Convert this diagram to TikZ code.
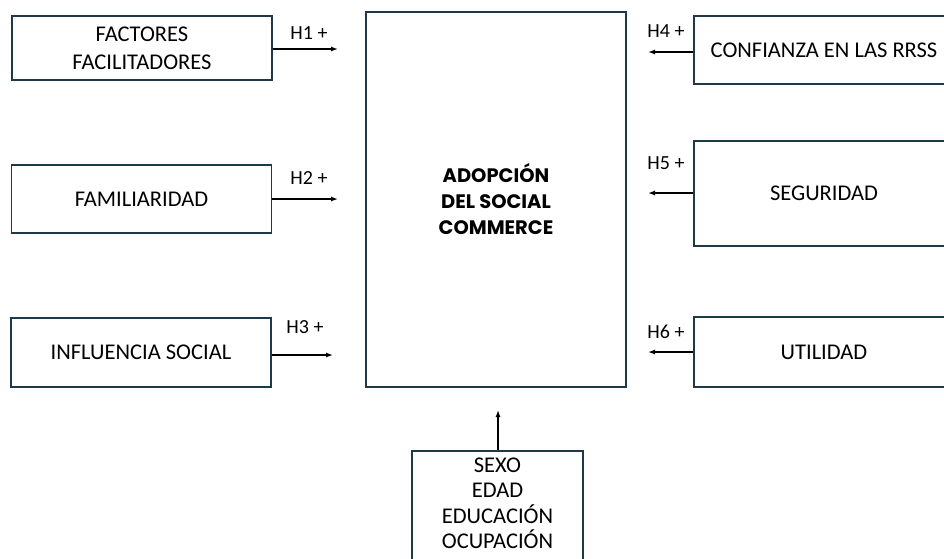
\documentclass[tikz,border=0pt]{standalone}
\usepackage{fontspec}
\setmainfont{Carlito}
\newfontfamily\titlefont{Poppins}
\usepackage{xcolor}
\usetikzlibrary{positioning,arrows.meta}
\definecolor{boxline}{HTML}{1E3A4A}

\begin{document}
\begin{tikzpicture}[x=1pt, y=-1pt,
  factor/.style={draw=boxline, line width=1.6pt, minimum width=260pt, align=center,
                 font=\fontsize{22.5}{28}\selectfont, inner sep=0pt},
  hyp/.style={-{Latex[length=7pt,width=5pt]}, line width=1.3pt},
  hlabel/.style={font=\fontsize{20}{22}\selectfont, inner sep=0pt}
]
  \clip (0,0) rectangle (944,558);

  % Central construct
  \node[draw=boxline, line width=1.6pt, minimum width=260pt, minimum height=375pt,
        align=center, font=\titlefont\bfseries\fontsize{19.5}{26}\selectfont] (adop) at (496,199.5)
    {ADOPCIÓN\\DEL SOCIAL\\COMMERCE};

  % Left factors
  \node[factor, minimum height=64pt] (fac) at (142,48) {FACTORES\\FACILITADORES};
  \node[factor, minimum height=68pt] (fam) at (141.5,199) {FAMILIARIDAD};
  \node[factor, minimum height=69pt] (inf) at (141,352.5) {INFLUENCIA SOCIAL};

  % Right factors (cut by the page edge)
  \node[factor, minimum height=68pt] (conf) at (824,50) {CONFIANZA EN LAS RRSS};
  \node[factor, minimum height=105pt] (seg) at (824,193.5) {SEGURIDAD};
  \node[factor, minimum height=70pt] (uti) at (824,352) {UTILIDAD};

  % Control variables (cut by the page edge)
  \node[factor, minimum width=171pt, inner ysep=7pt, anchor=north] (demo) at (497.5,450)
    {SEXO\\[-2.5pt]EDAD\\[-2.5pt]EDUCACIÓN\\[-2.5pt]OCUPACIÓN\\[-8pt]~};

  % Hypotheses
  \coordinate (h1) at (338,49);
  \coordinate (h2) at (338,199);
  \coordinate (h3) at (333,355);
  \coordinate (h4) at (648,52);
  \coordinate (h5) at (648,193);
  \coordinate (h6) at (648,352);
  \coordinate (h7) at (498,410);

  \draw[hyp] (fac.east |- h1) -- (h1);
  \draw[hyp] (fam.east |- h2) -- (h2);
  \draw[hyp] (inf.east |- h3) -- (h3);
  \draw[hyp] (conf.west |- h4) -- (h4);
  \draw[hyp] (seg.west |- h5) -- (h5);
  \draw[hyp] (uti.west |- h6) -- (h6);
  \draw[hyp] (demo.north -| h7) -- (h7);

  \node[hlabel] (l1) at (309,33) {H1 +};
  \node[hlabel] (l2) at (309,178) {H2 +};
  \node[hlabel] (l3) at (305,327) {H3 +};
  \node[hlabel] (l4) at (666,31) {H4 +};
  \node[hlabel] (l5) at (666,163) {H5 +};
  \node[hlabel] (l6) at (666,332) {H6 +};
\end{tikzpicture}
\end{document}
